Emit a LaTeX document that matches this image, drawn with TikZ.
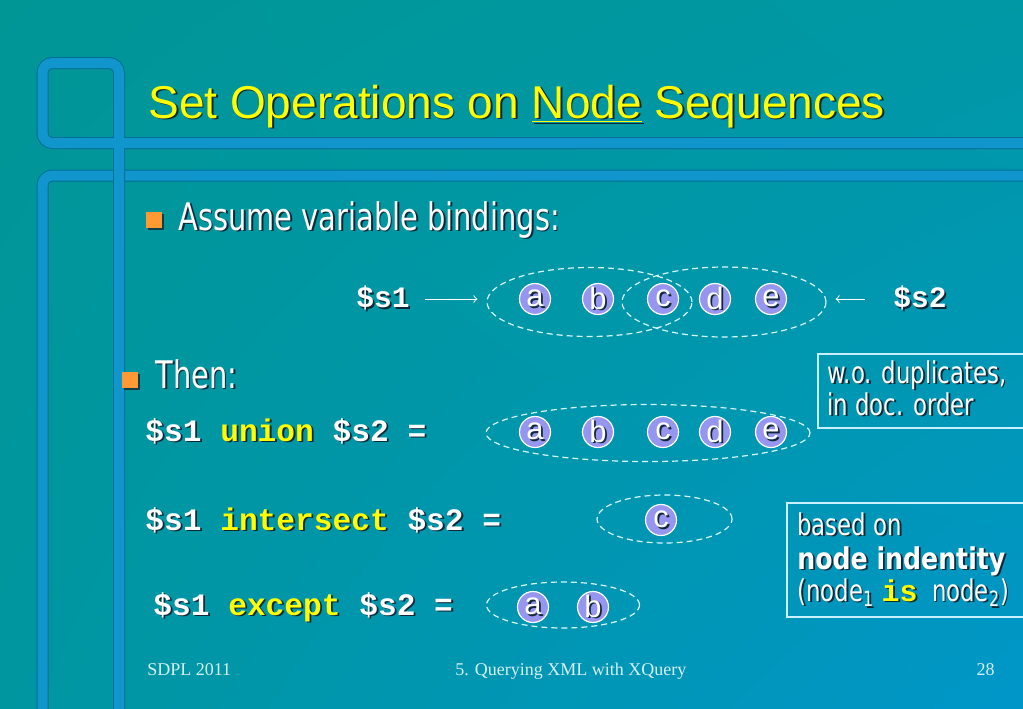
\documentclass[tikz,border=0pt]{standalone}
\usepackage{fontspec}
\setmainfont{Liberation Sans}
\newfontfamily\tahomafont[FakeStretch=0.76, BoldFeatures={FakeStretch=0.84}]{DejaVu Sans}
\newfontfamily\courfont{Liberation Mono}
\newfontfamily\timesfont{Liberation Serif}
\usepackage{tikz}
\usetikzlibrary{shapes,arrows,positioning,calc,shapes.geometric,shadows,shadings}
\usepackage{xcolor}

\definecolor{slideteal}{RGB}{0,150,150}
\definecolor{slidetealR}{RGB}{0,152,165}
\definecolor{slidetealB}{RGB}{0,150,160}
\definecolor{slideblue}{RGB}{0,150,200}
\definecolor{barblue}{RGB}{16,150,205}
\definecolor{bardark}{RGB}{0,110,150}
\definecolor{titleyellow}{RGB}{255,255,0}
\definecolor{nodelilac}{RGB}{150,150,240}
\definecolor{bulletorange}{RGB}{255,153,51}
\definecolor{txtshadow}{RGB}{15,40,55}
\definecolor{dashwhite}{RGB}{215,250,255}
\definecolor{boxline}{RGB}{200,240,255}
\definecolor{footcol}{RGB}{215,240,240}

% text with a small drop shadow
\newcommand{\shd}[2][white]{\rlap{\kern0.9pt\raisebox{-0.9pt}{\textcolor{txtshadow}{#2}}}\textcolor{#1}{#2}}

\tikzset{
  bar/.style={draw=bardark, double=barblue, double distance=5pt, line width=0.5pt, rounded corners=5pt},
  bodytxt/.style={font=\tahomafont\fontsize{19}{21}\selectfont, inner sep=0pt, anchor=base west},
  notetxt/.style={font=\tahomafont\fontsize{15}{16}\selectfont, inner sep=0pt, anchor=base west},
  codetxt/.style={font=\courfont\bfseries\fontsize{15.6}{17}\selectfont, inner sep=0pt, anchor=base west},
  elem/.style={circle, fill=nodelilac, draw=white, line width=0.6pt, minimum size=15.5pt, inner sep=0pt, font=\fontsize{15.5}{15.5}\selectfont},
  seqset/.style={ellipse, draw=dashwhite, dash pattern=on 3pt off 2pt, line width=0.6pt, inner sep=0pt},
  bulletsq/.style={fill=bulletorange, minimum size=8pt, inner sep=0pt, drop shadow={shadow xshift=0.9pt, shadow yshift=-0.9pt, fill=txtshadow, opacity=0.8}},
  notebox/.style={draw=boxline, line width=0.8pt, inner sep=0pt, anchor=north west},
  foottxt/.style={font=\timesfont\fontsize{9}{11}\selectfont, text=footcol, inner sep=0pt},
  bindarrow/.style={->, draw=white, line width=0.5pt}
}

\begin{document}
\begin{tikzpicture}[x=0.5pt,y=-0.5pt]
    \useasboundingbox (0,0) rectangle (1023,708);
    \shade[upper left=slideteal, upper right=slidetealR, lower left=slidetealB, lower right=slideblue] (0,0) rectangle (1023,708);

    % frame bars
    \draw[bar] (1040,175.5) -- (42.5,175.5) -- (42.5,720);
    \draw[bar] (1040,143) -- (42.5,143) -- (42.5,63) -- (119,63) -- (119,720);

    % title
    \node[font=\fontsize{23}{26}\selectfont, inner sep=0pt, anchor=base west] (title) at (148,118)
        {\shd[titleyellow]{Set Operations on \underline{Node} Sequences}};

    % bullets
    \node[bulletsq] (bul1) at (154,220) {};
    \node[bodytxt] (assume) at (178,230) {\shd{Assume variable bindings:}};
    \node[bulletsq] (bul2) at (130,380) {};
    \node[bodytxt] (then) at (155,388) {\shd{Then:}};

    % variable bindings
    \node[codetxt, font=\courfont\bfseries\fontsize{14.8}{17}\selectfont, anchor=east] (s1lbl) at (410,299) {\shd{\$s1}};
    \node[codetxt, font=\courfont\bfseries\fontsize{14.8}{17}\selectfont, anchor=west] (s2lbl) at (893,299) {\shd{\$s2}};
    \node[seqset, minimum width=102.5pt, minimum height=34.5pt] (s1set) at (589.5,302) {};
    \node[seqset, minimum width=102pt, minimum height=35pt] (s2set) at (724,302) {};
    \node[elem] (ba) at (535,299) {\shd{a}};
    \node[elem] (bb) at (598,299) {\shd{b}};
    \node[elem] (bc) at (663,299) {\shd{c}};
    \node[elem] (bd) at (715,299) {\shd{d}};
    \node[elem] (be) at (771,299) {\shd{e}};
    \draw[bindarrow, shorten <=7.5pt, shorten >=4.5pt] (s1lbl.east) -- (s1lbl.east -| s1set.west);
    \draw[bindarrow, shorten <=14pt, shorten >=4.5pt] (s2lbl.west) -- (s2lbl.west -| s2set.east);

    % union
    \node[codetxt] (unionlbl) at (145,441) {\shd{\$s1}~\shd[titleyellow]{union}~\shd{\$s2}~\shd{=}};
    \node[seqset, minimum width=162pt, minimum height=28.5pt] (unionset) at (648,433) {};
    \node[elem] (ua) at (535,432) {\shd{a}};
    \node[elem] (ub) at (598,432) {\shd{b}};
    \node[elem] (uc) at (663,432) {\shd{c}};
    \node[elem] (ud) at (715,432) {\shd{d}};
    \node[elem] (ue) at (771,432) {\shd{e}};

    % intersect
    \node[codetxt] (interlbl) at (145,530) {\shd{\$s1}~\shd[titleyellow]{intersect}~\shd{\$s2}~\shd{=}};
    \node[seqset, minimum width=67.5pt, minimum height=24pt] (interset) at (664.5,519) {};
    \node[elem] (ic) at (661,520) {\shd{c}};

    % except
    \node[codetxt] (exceptlbl) at (153,615) {\shd{\$s1}~\shd[titleyellow]{except}~\shd{\$s2}~\shd{=}};
    \node[seqset, minimum width=76.5pt, minimum height=23pt] (exceptset) at (563,605) {};
    \node[elem] (ea) at (533,607) {\shd{a}};
    \node[elem] (eb) at (593,607) {\shd{b}};

    % remarks
    \node[notebox, minimum width=103pt, minimum height=37pt] (dupbox) at (817,353) {};
    \node[notetxt] (dup1) at (827,383) {\shd{w.o. duplicates,}};
    \node[notetxt] (dup2) at (827,415) {\shd{in doc. order}};
    \node[notebox, minimum width=120pt, minimum height=57pt] (idbox) at (786,502) {};
    \node[notetxt] (id1) at (797,535) {\shd{based on}};
    \node[notetxt] (id2) at (797,569) {\shd{\bfseries node indentity}};
    \node[notetxt] (id3) at (797,601) {\shd{(node\textsubscript{1}}~\shd[titleyellow]{\courfont\bfseries is}~~\shd{node\textsubscript{2})}};

    % footer
    \node[foottxt, anchor=base west] (fleft) at (147,675) {SDPL 2011};
    \node[foottxt, anchor=base west] (fmid) at (455,675) {5. Querying XML with XQuery};
    \node[foottxt, anchor=base east] (fright) at (995,675) {28};
\end{tikzpicture}
\end{document}
